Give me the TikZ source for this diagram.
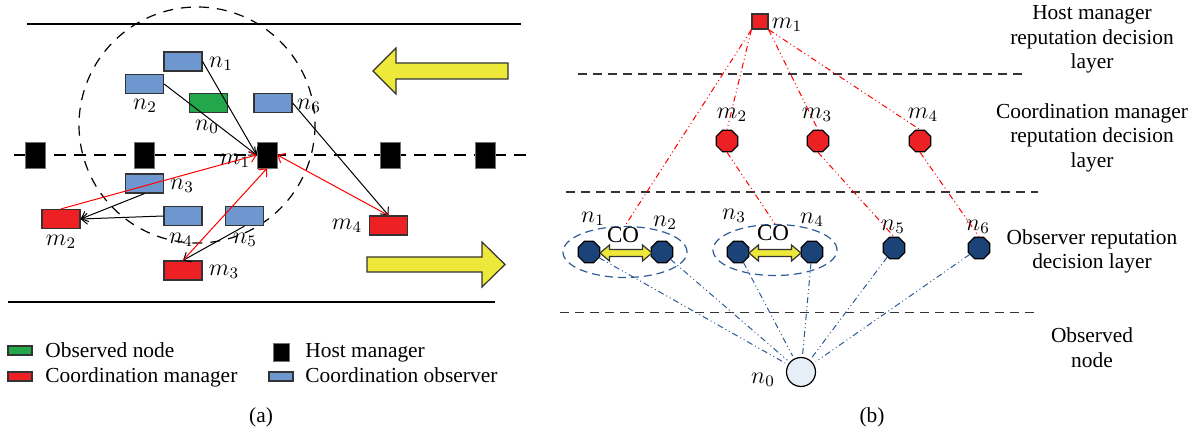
\documentclass[tikz,border=0pt]{standalone}
\usepackage{fontspec}
\setmainfont{Liberation Serif}
\usetikzlibrary{shapes.geometric,arrows.meta}

\definecolor{obsblue}{RGB}{111,151,207}
\definecolor{obsgreen}{RGB}{34,168,74}
\definecolor{mgrred}{RGB}{237,32,36}
\definecolor{arrowyellow}{RGB}{237,232,58}
\definecolor{octblue}{RGB}{27,67,120}
\definecolor{linkblue}{RGB}{46,90,150}
\definecolor{nodefill}{RGB}{230,238,248}

\tikzset{
  txt/.style={inner sep=0pt, font=\fontsize{10.7}{12.2}\selectfont},
  lbl/.style={inner sep=0pt, font=\fontsize{11.8}{13}\selectfont},
  box/.style={draw=black!80, line width=0.6pt, minimum width=19pt, minimum height=9.5pt, inner sep=0pt},
  observer/.style={box, fill=obsblue},
  observed/.style={box, fill=obsgreen},
  cmanager/.style={box, fill=mgrred},
  host/.style={fill=black, draw=black!55, line width=0.4pt, minimum width=10pt, minimum height=13pt, inner sep=0pt},
  link/.style={line width=0.5pt, -{Straight Barb[length=3pt,width=5.5pt]}},
  redlink/.style={link, draw=red},
  layerline/.style={line width=0.7pt, draw=black!80, dash pattern=on 4.5pt off 3pt},
  oct/.style={regular polygon, regular polygon sides=8, minimum size=11.6pt, inner sep=0pt, draw=black, line width=0.6pt},
  redoct/.style={oct, fill=mgrred},
  blueoct/.style={oct, fill=octblue},
  dashdotdot/.style={line width=0.5pt, dash pattern=on 3pt off 1.5pt on 0.5pt off 1.5pt on 0.5pt off 1.5pt},
  redchain/.style={dashdotdot, draw=red},
  bluechain/.style={dashdotdot, draw=linkblue, shorten >=1.5pt},
  group/.style={ellipse, draw=linkblue, line width=0.6pt, dash pattern=on 4pt off 2.5pt, minimum width=62pt, minimum height=25.5pt, inner sep=0pt},
  bigarrow/.style={fill=arrowyellow, draw=black!80, line width=0.6pt},
}

\begin{document}
\begin{tikzpicture}[x=0.5pt, y=-0.5pt]
\useasboundingbox (0,0) rectangle (1201,432);

% ---------------- (a) road scene ----------------
\draw[line width=0.7pt] (27,24) -- (521,24);
\draw[line width=0.7pt] (8,302) -- (495,302);
\draw[line width=0.7pt, dash pattern=on 6pt off 4pt] (14,155) -- (530,155);
\draw[line width=0.6pt, dash pattern=on 5pt off 4pt] (197,125) circle (118);

% host managers along the road
\node[host] (h1) at (35,155) {};
\node[host] (h2) at (144.5,155) {};
\node[host] (m1) at (267,155) {};
\node[host] (h4) at (390.5,155) {};
\node[host] (h5) at (485.5,155) {};

% observers, observed node and coordination managers
\node[observer] (n1) at (183,61.5) {};
\node[observer] (n2) at (144.5,84) {};
\node[observed] (n0) at (208.5,103) {};
\node[observer] (n6) at (273,103) {};
\node[observer] (n3) at (144.5,183.5) {};
\node[observer] (n4) at (183,216) {};
\node[observer] (n5) at (244.5,216) {};
\node[cmanager] (m2) at (61,219) {};
\node[cmanager] (m3) at (183,270.5) {};
\node[cmanager] (m4) at (388.5,225.5) {};

\node[lbl] (ln1) at (221,64) {$n_1$};
\node[lbl] (ln2) at (145,106) {$n_2$};
\node[lbl] (ln0) at (207,127) {$n_0$};
\node[lbl] (ln6) at (309,106) {$n_6$};
\node[lbl] (lm1) at (235,161) {$m_1$};
\node[lbl] (ln3) at (182,186) {$n_3$};
\node[lbl] (lm2) at (61,242) {$m_2$};
\node[lbl] (ln4) at (181,240) {$n_4$};
\node[lbl] (ln5) at (245,240) {$n_5$};
\node[lbl] (lm3) at (224,272) {$m_3$};
\node[lbl] (lm4) at (347,226) {$m_4$};

% reports
\draw[link] (n1.east) -- (m1.west);
\draw[link] (n2.east) -- (m1.west);
\draw[link] (n6.east) -- (m4.north);
\draw[link] (n3.south) -- (m2.east);
\draw[link] (n4.west) -- (m2.east);
\draw[link] (n5.south) -- (m3.north);
\draw[redlink] (m2.north) -- (m1.west);
\draw[redlink] (m3.north) -- (m1.south);
\draw[redlink] (m4.north) -- (m1.east);

% traffic directions
\draw[bigarrow] (373,71) -- (396,48) -- (396,63) -- (508,63) -- (508,79) -- (396,79) -- (396,94) -- cycle;
\draw[bigarrow] (505,264.5) -- (482,242) -- (482,257) -- (367,257) -- (367,272) -- (482,272) -- (482,287) -- cycle;

% legend
\node[box, fill=obsgreen, minimum width=12pt, minimum height=4.5pt] (kg) at (20,350.5) {};
\node[box, fill=mgrred, minimum width=12pt, minimum height=4.5pt] (kr) at (20,376.5) {};
\node[fill=black, draw=black!55, minimum width=8pt, minimum height=9pt, inner sep=0pt] (kk) at (281,352) {};
\node[box, fill=obsblue, minimum width=12pt, minimum height=4.5pt] (kb) at (281,376.5) {};
\node[txt, anchor=base west] (tg) at (45,358) {Observed node};
\node[txt, anchor=base west] (tr) at (45,383) {Coordination manager};
\node[txt, anchor=base west] (tk) at (305,358) {Host manager};
\node[txt, anchor=base west] (tb) at (305,383) {Coordination observer};
\node[txt] (capa) at (261,417) {(a)};

% ---------------- (b) layered model ----------------
\draw[layerline] (578,74) -- (1025,74);
\draw[layerline] (566,192) -- (1038,192);
\draw[layerline] (560,312.5) -- (1034,312.5);

\node[draw=black!80, fill=mgrred, line width=0.6pt, minimum width=8pt, minimum height=7.5pt, inner sep=0pt] (b1) at (760,21.5) {};
\node[lbl] (lb1) at (787,25) {$m_1$};

\node[redoct] (b2) at (727,141) {};
\node[redoct] (b3) at (818,141) {};
\node[redoct] (b4) at (920,141) {};
\node[lbl] (lb2) at (732,115) {$m_2$};
\node[lbl] (lb3) at (817,115) {$m_3$};
\node[lbl] (lb4) at (923,115) {$m_4$};

\node[group] (g12) at (625,252) {};
\node[group] (g34) at (775,250) {};

\node[blueoct] (o1) at (589,252) {};
\node[blueoct] (o2) at (662,252) {};
\node[blueoct] (o3) at (738,252) {};
\node[blueoct] (o4) at (812,252) {};
\node[blueoct] (o5) at (894,248) {};
\node[blueoct] (o6) at (979,248) {};
\node[lbl] (lo1) at (593,219) {$n_1$};
\node[lbl] (lo2) at (665,223) {$n_2$};
\node[lbl] (lo3) at (734,216) {$n_3$};
\node[lbl] (lo4) at (812,220) {$n_4$};
\node[lbl] (lo5) at (893,227) {$n_5$};
\node[lbl] (lo6) at (978,227) {$n_6$};

% coordination between paired observers
\draw[bigarrow] (600,253) -- (609.5,245) -- (609.5,249.5) -- (642.5,249.5) -- (642.5,245) -- (652,253) -- (642.5,261) -- (642.5,256.5) -- (609.5,256.5) -- (609.5,261) -- cycle;
\draw[bigarrow] (749,253) -- (758.5,245) -- (758.5,249.5) -- (791.5,249.5) -- (791.5,245) -- (801,253) -- (791.5,261) -- (791.5,256.5) -- (758.5,256.5) -- (758.5,261) -- cycle;
\node[txt, font=\fontsize{11.5}{13}\selectfont] (co1) at (623,235) {CO};
\node[txt, font=\fontsize{11.5}{13}\selectfont] (co2) at (773,233) {CO};

\node[circle, draw=black, fill=nodefill, line width=0.6pt, minimum size=14.5pt, inner sep=0pt] (b0) at (801,372) {};
\node[lbl] (lb0) at (763,380) {$n_0$};

% reputation links between layers
\draw[redchain] (b1.south west) -- (g12.north);
\draw[redchain] (b1.south west) -- (b2.north);
\draw[redchain] (b1.south east) -- (b3.north);
\draw[redchain] (b1.south east) -- (b4.north);
\draw[redchain] (b2.south) -- (g34.north);
\draw[redchain] (b3.south) -- (o5.north);
\draw[redchain] (b4.south) -- (o6.north);

\foreach \o in {o1,o2,o3,o4,o5,o6}
  \draw[bluechain] (\o) -- (b0);

% layer names
\node[txt, align=center] (L1) at (1092,39.5) {Host manager\\reputation decision\\layer};
\node[txt, align=center] (L2) at (1092,137.5) {Coordination manager\\reputation decision\\layer};
\node[txt, align=center] (L3) at (1092,251.5) {Observer reputation\\decision layer};
\node[txt, align=center] (L4) at (1092,347.5) {Observed\\node};
\node[txt] (capb) at (872,417) {(b)};
\end{tikzpicture}
\end{document}
